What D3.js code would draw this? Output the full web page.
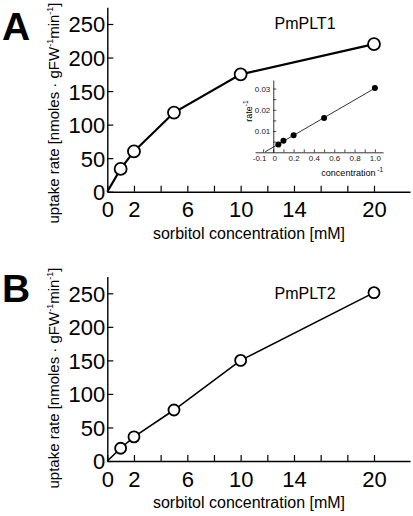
<!DOCTYPE html>
<html>
<head>
<meta charset="utf-8">
<script src="https://cdn.jsdelivr.net/npm/d3@7"></script>
<style>
body{margin:0;background:#fff;}
svg{display:block;font-family:"Liberation Sans",Arial,sans-serif;}
</style>
</head>
<body>
<svg id="c" width="413" height="516"></svg>
<script>
// ---- data ----
const concentration = [1, 2, 5, 10, 20];            // mM
const rateA = [34, 60, 118, 175, 220];              // PmPLT1
const rateB = [19, 36, 76, 150, 251];               // PmPLT2
const origin = {x: 0, y: 0};
const xTicks = [0, 2, 4, 6, 8, 10, 12, 14, 16, 18, 20];
const xLabels = [0, 2, 6, 10, 14, 20];
const yTicks = [0, 50, 100, 150, 200, 250];
// inset (Lineweaver-Burk)
const invConc = [0.05, 0.1, 0.2, 0.5, 1.0];
const invRate = [0.0037, 0.0054, 0.0080, 0.0161, 0.0302];
const insetXTicks = [-0.1, 0, 0.1, 0.2, 0.3, 0.4, 0.5, 0.6, 0.7, 0.8, 0.9, 1.0];
const insetXLabels = [-0.1, 0, 0.2, 0.4, 0.6, 0.8, 1.0];
const insetYTicks = [0, 0.005, 0.01, 0.015, 0.02, 0.025, 0.03];
const insetYLabels = [0.01, 0.02, 0.03];

const svg = d3.select("#c");

function panel(o) {
  const g = svg.append("g");
  const x = d3.scaleLinear().domain([0, 22.7]).range([107.3, 410]);
  const y = d3.scaleLinear().domain([0, 275]).range([o.y0, o.y0 - 275 * 0.6708]);

  const xa = d3.axisBottom(x).tickValues(xTicks).tickSizeInner(-6).tickSizeOuter(0).tickPadding(10)
    .tickFormat(d => xLabels.includes(d) ? d : "");
  const ya = d3.axisLeft(y).tickValues(yTicks).tickSizeInner(-6).tickSizeOuter(0).tickPadding(2);

  const gx = g.append("g").attr("transform", `translate(0,${o.y0})`).call(xa);
  const gy = g.append("g").attr("transform", `translate(${x(0)},0)`).call(ya);
  [gx, gy].forEach(a => {
    a.select(".domain").attr("stroke", "#000").attr("stroke-width", 1.4);
    a.selectAll(".tick line").attr("stroke", "#000").attr("stroke-width", 1.2);
    a.selectAll("text").attr("font-size", 22).attr("fill", "#000").attr("font-family", "Liberation Sans, Arial, sans-serif");
  });
  gy.selectAll("text").attr("dy", "0.36em");

  const pts = [origin].concat(concentration.map((c, i) => ({x: c, y: o.rates[i]})));
  const line = d3.line().x(d => x(d.x)).y(d => y(d.y));
  g.append("path").datum(pts).attr("d", line).attr("fill", "none")
    .attr("stroke", "#000").attr("stroke-width", o.lw);
  g.selectAll("circle.pt").data(pts.slice(1)).enter().append("circle")
    .attr("cx", d => x(d.x)).attr("cy", d => y(d.y)).attr("r", o.r)
    .attr("fill", "#fff").attr("stroke", "#000").attr("stroke-width", 1.8);

  // labels
  g.append("text").attr("x", 249).attr("y", o.y0 + 47).attr("text-anchor", "middle")
    .attr("font-size", 16).text("sorbitol concentration [mM]");
  const yt = g.append("text").attr("transform", `translate(59,${o.ycTitle}) rotate(-90)`)
    .attr("text-anchor", "middle").attr("font-size", 15);
  yt.append("tspan").text("uptake rate [nmoles · gFW");
  yt.append("tspan").attr("font-size", 9).attr("dy", -6).text("-1");
  yt.append("tspan").attr("dy", 6).text("min");
  yt.append("tspan").attr("font-size", 9).attr("dy", -6).text("-1");
  yt.append("tspan").attr("dy", 6).text("]");

  g.append("text").attr("x", 305).attr("y", o.titleY).attr("text-anchor", "middle")
    .attr("font-size", 16).text(o.title);
  g.append("text").attr("x", 2).attr("y", o.letterY).attr("font-size", 39)
    .attr("font-weight", "bold").text(o.letter);
  return g;
}

panel({y0: 191.7, rates: rateA, lw: 2.2, r: 6, title: "PmPLT1", titleY: 29, letter: "A", letterY: 40, ycTitle: 113});
panel({y0: 461, rates: rateB, lw: 1.6, r: 5.5, title: "PmPLT2", titleY: 299, letter: "B", letterY: 302, ycTitle: 378});

// ---- inset ----
(function () {
  const g = svg.append("g");
  const x = d3.scaleLinear().domain([-0.18, 1.08]).range([255, 383]);
  const y = d3.scaleLinear().domain([0, 0.034]).range([152.3, 80]);
  const xa = d3.axisBottom(x).tickValues(insetXTicks).tickSizeInner(-3).tickSizeOuter(0).tickPadding(3)
    .tickFormat(d => insetXLabels.includes(d) ? (d === 0 ? "0" : (d < 0 ? "-" + Math.abs(d).toFixed(1) : d.toFixed(1))) : "");
  const ya = d3.axisLeft(y).tickValues(insetYTicks).tickSizeInner(-3).tickSizeOuter(0).tickPadding(3)
    .tickFormat(d => insetYLabels.includes(d) ? d.toFixed(2) : "");
  const gx = g.append("g").attr("transform", `translate(0,${y(0)})`).call(xa);
  const gy = g.append("g").attr("transform", `translate(${x(0)},0)`).call(ya);
  [gx, gy].forEach(a => {
    a.select(".domain").attr("stroke", "#000").attr("stroke-width", 0.8);
    a.selectAll(".tick line").attr("stroke", "#000").attr("stroke-width", 0.7);
    a.selectAll("text").attr("font-size", 8).attr("fill", "#222").attr("font-family", "Liberation Sans, Arial, sans-serif");
  });
  gx.selectAll(".tick text").filter(d => d < 0).attr("dx", -4);
  gx.selectAll(".tick text").filter(d => d === 0).attr("dx", 1);
  gy.selectAll(".tick").filter(d => d === 0).remove();

  // least-squares line through the reciprocal points
  const mx = d3.mean(invConc), my = d3.mean(invRate);
  const slope = d3.sum(invConc, (v, i) => (v - mx) * (invRate[i] - my)) / d3.sum(invConc, v => (v - mx) * (v - mx));
  const icpt = my - slope * mx;
  const x0 = -0.08, x1 = 1.0;
  g.append("line").attr("x1", x(x0)).attr("y1", y(icpt + slope * x0))
    .attr("x2", x(x1)).attr("y2", y(icpt + slope * x1))
    .attr("stroke", "#000").attr("stroke-width", 0.8);
  g.selectAll("circle").data(invConc).enter().append("circle")
    .attr("cx", d => x(d)).attr("cy", (d, i) => y(invRate[i])).attr("r", 3).attr("fill", "#000");

  const xl = g.append("text").attr("x", 383).attr("y", 176).attr("text-anchor", "end").attr("font-size", 9);
  xl.append("tspan").text("concentration");
  xl.append("tspan").attr("font-size", 6.5).attr("dy", -4).text(" -1");
  const yl = g.append("text").attr("transform", "translate(252,111) rotate(-90)").attr("text-anchor", "middle").attr("font-size", 9);
  yl.append("tspan").text("rate");
  yl.append("tspan").attr("font-size", 6.5).attr("dy", -4).text("-1");
})();
</script>
</body>
</html>
